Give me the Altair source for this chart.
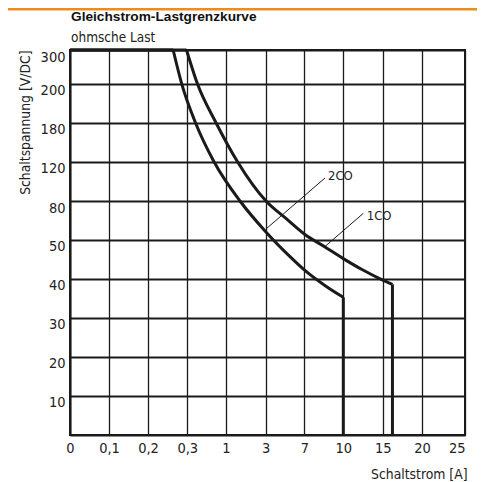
import altair as alt
import pandas as pd

# tick values (non-uniform, evenly spaced grid)
x_ticks = [0, 0.1, 0.2, 0.3, 1, 3, 7, 10, 15, 20, 25]
y_ticks = [0, 10, 20, 30, 40, 50, 80, 120, 180, 200, 300]

# pixel position of each tick inside the plot area (piecewise scale)
x_pos = [0, 39, 78, 117.3, 156, 195.7, 234.3, 273.3, 312.7, 352, 395]
y_pos = [385, 345.7, 306.7, 267.7, 228.5, 189.5, 151, 111.7, 72.7, 33.5, 0]

# curves (Schaltstrom [A], Schaltspannung [V])
co2_current = [0, 0.264, 0.286, 0.448, 0.783, 1.705, 3.0, 5.52, 7, 8.72, 10, 10]
co2_voltage = [300, 300, 199.7, 180, 120, 80, 56.1, 45.6, 42.2, 37.9, 35.2, 0]
co1_current = [0, 0.298, 0.485, 0.819, 1.58, 3.03, 5.10, 7.05, 8.59, 10, 12.37, 15, 16.24, 16.24]
co1_voltage = [300, 300, 199.7, 180, 120, 80, 66.4, 53.9, 48.1, 45.1, 42.3, 39.6, 38.5, 0]

# leader lines and labels
leader_series = ["2CO", "2CO", "1CO", "1CO"]
leader_current = [3.03, 8.59, 8.59, 12.54]
leader_voltage = [58.2, 103.4, 48.2, 70.4]
label_text = ["2CO", "1CO"]
label_current = [8.82, 12.97]
label_voltage = [105.4, 68.7]

title_text = ["Gleichstrom-Lastgrenzkurve"]
subtitle_text = ["ohmsche Last"]

COND = "DejaVu Sans Condensed"
INK = "#1a1a1a"
TXT = "#222"

straight_rows, curve_rows = [], []
for name, xs, ys in [("2CO", co2_current, co2_voltage), ("1CO", co1_current, co1_voltage)]:
    n = len(xs)
    for i in range(n):
        p = {"serie": name, "i": i, "I": xs[i], "U": ys[i]}
        if i <= 1:
            straight_rows.append(dict(p, part=name + "top"))
        if i >= n - 2:
            straight_rows.append(dict(p, part=name + "drop"))
        if 1 <= i <= n - 2:
            curve_rows.append(p)
straight = pd.DataFrame(straight_rows)
curve = pd.DataFrame(curve_rows)

leaders = pd.DataFrame({"serie": leader_series, "i": [0, 1, 0, 1],
                        "I": leader_current, "U": leader_voltage})
labels = pd.DataFrame({"t": label_text, "I": label_current, "U": label_voltage})

xscale = alt.Scale(domain=x_ticks, range=x_pos, nice=False, zero=False)
yscale = alt.Scale(domain=y_ticks, range=y_pos, nice=False, zero=False)

xaxis = alt.Axis(
    values=x_ticks, tickCount=30, labelFlush=False,
    labelExpr="replace(toString(datum.value), '.', ',')",
    labelAlign={"condition": {"test": "datum.value == 25", "value": "right"}, "value": "center"},
    grid=True, gridColor=INK, gridWidth=1.3,
    ticks=False, domain=True, domainColor=INK, domainWidth=2,
    labelPadding=6, labelFont=COND, labelFontSize=14.5, labelColor=TXT,
    title="Schaltstrom [A]", titleFont=COND, titleFontSize=13.8, titleFontWeight="normal",
    titleColor=TXT, titleX=397, titleY=43, titleAlign="right", titleBaseline="alphabetic",
)
yaxis = alt.Axis(
    values=y_ticks[1:], tickCount=30, labelFlush=False,
    grid=True, gridColor=INK, gridWidth=1.8,
    ticks=False, domain=True, domainColor=INK, domainWidth=2,
    labelPadding=5, labelBaseline="top", labelFont=COND, labelFontSize=14.5, labelColor=TXT,
    title="Schaltspannung [V/DC]", titleFont=COND, titleFontSize=13.8, titleFontWeight="normal",
    titleColor=TXT, titleAngle=270, titleAlign="right", titleBaseline="alphabetic",
    titleX=-41, titleY=0,
)

straight_lines = alt.Chart(straight).mark_line(color=INK, strokeWidth=3).encode(
    x=alt.X("I:Q", scale=xscale, axis=xaxis),
    y=alt.Y("U:Q", scale=yscale, axis=yaxis),
    detail="part:N",
    order="i:Q",
)

curve_lines = alt.Chart(curve).mark_line(color=INK, strokeWidth=3, interpolate="monotone").encode(
    x=alt.X("I:Q", scale=xscale),
    y=alt.Y("U:Q", scale=yscale),
    detail="serie:N",
    order="i:Q",
)

leader_lines = alt.Chart(leaders).mark_line(color=INK, strokeWidth=1).encode(
    x=alt.X("I:Q", scale=xscale),
    y=alt.Y("U:Q", scale=yscale),
    detail="serie:N",
    order="i:Q",
)

texts = alt.Chart(labels).mark_text(align="left", baseline="middle", font=COND,
                                    fontSize=13, color=TXT).encode(
    x=alt.X("I:Q", scale=xscale),
    y=alt.Y("U:Q", scale=yscale),
    text="t:N",
)

title = alt.Chart(pd.DataFrame({"t": title_text})).mark_text(
    align="left", baseline="alphabetic", font="Liberation Sans", fontSize=13.7,
    fontWeight="bold", color="#111"
).encode(x=alt.value(1), y=alt.value(-29.3), text="t:N")

subtitle = alt.Chart(pd.DataFrame({"t": subtitle_text})).mark_text(
    align="left", baseline="alphabetic", font=COND, fontSize=13.5, color=TXT
).encode(x=alt.value(1), y=alt.value(-7.7), text="t:N")

bar = alt.Chart(pd.DataFrame({"a": [0]})).mark_rect(color="#F08A1C").encode(
    x=alt.value(-62), x2=alt.value(407), y=alt.value(-42), y2=alt.value(-39.5)
)

chart = alt.layer(straight_lines, curve_lines, leader_lines, texts, title, subtitle, bar).properties(
    width=395, height=385,
    autosize=alt.AutoSizeParams(type="none"),
    padding={"left": 62, "top": 42, "right": 12, "bottom": 47},
).configure_view(stroke=INK, strokeWidth=2)

chart.save("out.html", embed_options={"renderer": "svg", "actions": False})
